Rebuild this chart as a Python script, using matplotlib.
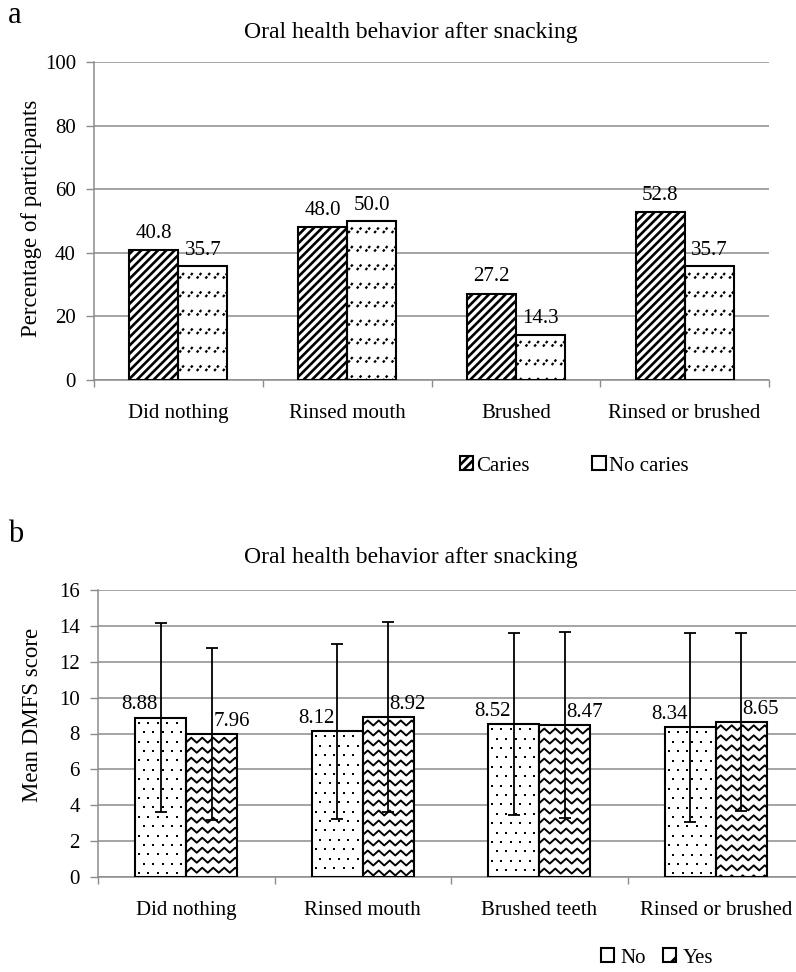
import numpy as np
import matplotlib
matplotlib.use('Agg')
import matplotlib.pyplot as plt
from matplotlib.patches import Patch
from matplotlib.collections import LineCollection
from matplotlib.transforms import IdentityTransform

plt.rcParams['font.family'] = ['Liberation Serif', 'DejaVu Serif']
plt.rcParams['hatch.linewidth'] = 1.9

# panel a - behaviour after snacking, % of participants by caries status
cats_a = ['Did nothing', 'Rinsed mouth', 'Brushed', 'Rinsed or brushed']
caries = [40.8, 48.0, 27.2, 52.8]
no_caries = [35.7, 50.0, 14.3, 35.7]

# panel b - mean DMFS score (No / Yes) with SD error bars
cats_b = ['Did nothing', 'Rinsed mouth', 'Brushed teeth', 'Rinsed or brushed']
dmfs_no = [8.88, 8.12, 8.52, 8.34]
dmfs_yes = [7.96, 8.92, 8.47, 8.65]
sd_no = [5.27, 4.88, 5.06, 5.25]
sd_yes = [4.78, 5.30, 5.20, 4.95]

GRID = '#8c8c8c'
W = 0.29
FS = 15


## fill patterns drawn in pixel space, clipped to each bar
def pat_dashes(ax, bar):
    x0, y0, x1, y1 = bar.get_window_extent().extents
    segs = []
    for y in np.arange(y1 - 12, y0 - 8, -18.5):
        for x in np.arange(x0 + 1, x1, 8.7):
            segs.append([(x, y), (x + 5, y + 6)])
    lc = LineCollection(segs, colors='black', linewidths=1.6,
                        linestyles=[(0, (1.2, 0.8))], transform=IdentityTransform(), zorder=2.5)
    ax.add_collection(lc, autolim=False)
    lc.set_clip_path(bar)

def pat_dots(ax, bar):
    x0, y0, x1, y1 = bar.get_window_extent().extents
    xs, ys = [], []
    for i, y in enumerate(np.arange(y1 - 5, y0, -9.4)):
        for x in np.arange(x0 + 4 + 4.7 * (i % 2), x1, 9.4):
            xs.append(x)
            ys.append(y)
    pts = ax.scatter(xs, ys, s=3.5, marker='s', color='black', linewidths=0,
                     transform=IdentityTransform(), zorder=2.5)
    pts.set_clip_path(bar)

def pat_waves(ax, bar):
    x0, y0, x1, y1 = bar.get_window_extent().extents
    segs = []
    for y in np.arange(y1 - 6, y0 - 6, -10.0):
        xx = np.arange(x0 - 6, x1 + 6, 5.5)
        yy = y + np.where(np.arange(len(xx)) % 2 == 0, 2.5, -2.5)
        segs.append(np.column_stack([xx, yy]))
    lc = LineCollection(segs, colors='black', linewidths=1.4,
                        transform=IdentityTransform(), zorder=2.5)
    ax.add_collection(lc, autolim=False)
    lc.set_clip_path(bar)


def style_axis(ax, cats, ymax, ystep):
    x = np.arange(len(cats))
    ax.set_xlim(-0.5, len(cats) - 0.5)
    ax.set_ylim(0, ymax)
    ax.set_yticks(np.arange(0, ymax + 1, ystep))
    ax.set_xticks(x)
    ax.set_xticklabels(cats, fontsize=FS)
    ax.set_xticks(np.arange(-0.5, len(cats)), minor=True)
    ax.tick_params(axis='x', which='major', length=0, pad=17)
    ax.tick_params(axis='x', which='minor', length=5, width=1, color=GRID, direction='out')
    ax.tick_params(axis='y', length=6, width=1, color=GRID, pad=7, labelsize=FS)
    ax.yaxis.grid(True, color=GRID, lw=1.1)
    ax.set_axisbelow(True)
    for s in ['top', 'right']:
        ax.spines[s].set_visible(False)
    for s in ['left', 'bottom']:
        ax.spines[s].set_color(GRID)
        ax.spines[s].set_linewidth(1.1)


fig = plt.figure(figsize=(7.96, 9.72), dpi=100)

## panel a
ax = fig.add_axes([94 / 796, 1 - 380 / 972, 675 / 796, 318 / 972])
style_axis(ax, cats_a, 100, 20)
x = np.arange(len(cats_a))
b1 = ax.bar(x - W / 2, caries, W, facecolor='white', edgecolor='black', hatch='////', lw=0, zorder=2)
b2 = ax.bar(x + W / 2, no_caries, W, facecolor='white', edgecolor='black', lw=0, zorder=2)
for p in b2:
    pat_dashes(ax, p)
ax.bar(x - W / 2, caries, W, fill=False, edgecolor='black', lw=1.5, zorder=3)
ax.bar(x + W / 2, no_caries, W, fill=False, edgecolor='black', lw=1.5, zorder=3)
for xi, v in zip(x - W / 2, caries):
    ax.annotate(f'{v:.1f}', (xi, v), xytext=(0, 9), textcoords='offset points',
                ha='center', va='baseline', fontsize=FS)
for xi, v in zip(x + W / 2, no_caries):
    ax.annotate(f'{v:.1f}', (xi, v), xytext=(0, 8), textcoords='offset points',
                ha='center', va='baseline', fontsize=FS)
fig.text(32 / 796, 1 - 218 / 972, 'Percentage of participants', rotation=90,
         ha='center', va='center', fontsize=16.5)
fig.text(411 / 796, 1 - 38 / 972, 'Oral health behavior after snacking',
         ha='center', va='baseline', fontsize=17)
fig.text(8 / 796, 1 - 23 / 972, 'a', ha='left', va='baseline', fontsize=22)
fig.legend(handles=[Patch(facecolor='white', edgecolor='black', hatch='////', lw=1.5, label='Caries'),
                    Patch(facecolor='white', edgecolor='black', lw=1.5, label='No caries')],
           loc='center', bbox_to_anchor=(574 / 796, 1 - 466 / 972), ncol=2, frameon=False,
           fontsize=FS, handlelength=0.65, handleheight=0.65, handletextpad=0.15,
           columnspacing=3.0, borderpad=0)

## panel b
ax = fig.add_axes([98 / 796, 1 - 877 / 972, 706 / 796, 287 / 972])
style_axis(ax, cats_b, 16, 2)
x = np.arange(len(cats_b))
b1 = ax.bar(x - W / 2, dmfs_no, W, facecolor='white', lw=0, zorder=2)
b2 = ax.bar(x + W / 2, dmfs_yes, W, facecolor='white', lw=0, zorder=2)
for p in b1:
    pat_dots(ax, p)
for p in b2:
    pat_waves(ax, p)
ax.bar(x - W / 2, dmfs_no, W, fill=False, edgecolor='black', lw=1.5, zorder=3)
ax.bar(x + W / 2, dmfs_yes, W, fill=False, edgecolor='black', lw=1.5, zorder=3)
ax.errorbar(x - W / 2, dmfs_no, yerr=sd_no, fmt='none', ecolor='black',
            elinewidth=1.3, capsize=4.3, capthick=1.3, zorder=4)
ax.errorbar(x + W / 2, dmfs_yes, yerr=sd_yes, fmt='none', ecolor='black',
            elinewidth=1.3, capsize=4.3, capthick=1.3, zorder=4)
for xi, v in zip(x - W / 2, dmfs_no):
    ax.annotate(f'{v:.2f}', (xi, v), xytext=(-2, 6), textcoords='offset points',
                ha='right', va='baseline', fontsize=FS)
for xi, v in zip(x + W / 2, dmfs_yes):
    ax.annotate(f'{v:.2f}', (xi, v), xytext=(1, 6), textcoords='offset points',
                ha='left', va='baseline', fontsize=FS)
fig.text(33 / 796, 1 - 715 / 972, 'Mean DMFS score', rotation=90,
         ha='center', va='center', fontsize=16.5)
fig.text(411 / 796, 1 - 563 / 972, 'Oral health behavior after snacking',
         ha='center', va='baseline', fontsize=17)
fig.text(8 / 796, 1 - 542 / 972, 'b', ha='left', va='baseline', fontsize=22)
fig.legend(handles=[Patch(facecolor='white', edgecolor='black', lw=1.5, label='No'),
                    Patch(facecolor='white', edgecolor='black', hatch='/', lw=1.5, label='Yes')],
           loc='center', bbox_to_anchor=(657 / 796, 1 - 958 / 972), ncol=2, frameon=False,
           fontsize=FS, handlelength=0.65, handleheight=0.65, handletextpad=0.3,
           columnspacing=0.8, borderpad=0)

fig.savefig('out.png', dpi=100)
